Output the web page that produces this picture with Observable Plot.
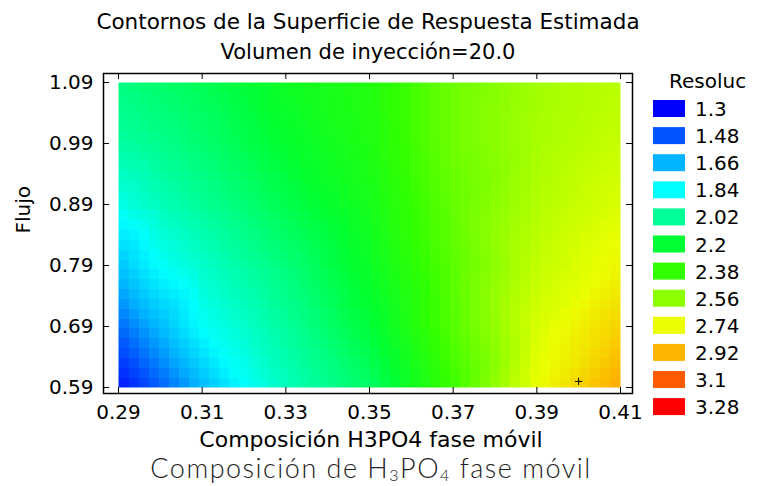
<!DOCTYPE html>
<html>
<head>
<meta charset="utf-8">
<script src="https://cdn.jsdelivr.net/npm/d3@7"></script>
<script src="https://cdn.jsdelivr.net/npm/@observablehq/plot@0.6"></script>
<style>
  html, body { margin: 0; padding: 0; background: #fff; }
  #wrap { position: relative; width: 759px; height: 486px; background: #fff; overflow: hidden; }
  #legend { position: absolute; left: 640px; top: 60px; }
  #caption { position: absolute; left: 0; top: 455px; width: 742px; text-align: center;
    font-family: Lato, "Open Sans", sans-serif; font-weight: 300; font-size: 27px;
    letter-spacing: 1.5px; color: #222; line-height: 26px; white-space: nowrap; }
  #caption sub { font-size: 16px; vertical-align: -3px; line-height: 0; }
</style>
</head>
<body>
<div id="wrap">
  <div id="plot"></div>
  <div id="legend"></div>
  <div id="caption">Composición de H<sub>3</sub>PO<sub>4</sub> fase móvil</div>
</div>
<script>
// ---- data ----
const title1 = "Contornos de la Superficie de Respuesta Estimada";
const title2 = "Volumen de inyección=20.0";
const xLabel = "Composición H3PO4 fase móvil";
const yLabel = "Flujo";
const legendTitle = "Resoluc";

const xTicks = [0.29, 0.31, 0.33, 0.35, 0.37, 0.39, 0.41];
const yTicks = [0.59, 0.69, 0.79, 0.89, 0.99, 1.09];

// grid where the estimated response was read off the picture
const gridXs = [0.29, 0.30, 0.31, 0.32, 0.33, 0.35, 0.37, 0.39, 0.41];
const gridYs = [0.59, 0.69, 0.79, 0.89, 0.99, 1.09];
const row059 = [1.34, 1.50, 1.67, 1.84, 1.95, 2.11, 2.40, 2.74, 2.95];
const row069 = [1.52, 1.68, 1.85, 1.93, 2.01, 2.19, 2.45, 2.70, 2.85];
const row079 = [1.70, 1.85, 1.93, 2.00, 2.07, 2.24, 2.46, 2.66, 2.76];
const row089 = [1.88, 1.96, 2.02, 2.08, 2.15, 2.28, 2.48, 2.63, 2.71];
const row099 = [2.00, 2.04, 2.09, 2.15, 2.21, 2.31, 2.50, 2.61, 2.67];
const row109 = [2.06, 2.10, 2.14, 2.19, 2.25, 2.32, 2.50, 2.60, 2.65];
const rows = [row059, row069, row079, row089, row099, row109]; // same order as gridYs

const optimumX = [0.40];
const optimumY = [0.60];

const legendValues = [1.3, 1.48, 1.66, 1.84, 2.02, 2.2, 2.38, 2.56, 2.74, 2.92, 3.1, 3.28];
const legendLabels = ["1.3", "1.48", "1.66", "1.84", "2.02", "2.2", "2.38", "2.56", "2.74", "2.92", "3.1", "3.28"];
const legendColors = ["#0000ff", "#0055ff", "#00b4ff", "#00ffff", "#00ff96", "#00ff32",
                      "#32ff00", "#8cff00", "#ebff00", "#ffb400", "#ff5a00", "#ff0000"];

// ---- build table ----
const grid = [];
gridYs.forEach((y, j) => gridXs.forEach((x, i) => grid.push({x, y, v: rows[j][i]})));
const optimum = optimumX.map((x, i) => ({x, y: optimumY[i]}));

const W = 759, H = 458;
const mL = 103, mR = 127, mT = 73, mB = 65;
const fw = W - mL - mR, fh = H - mT - mB;
const font = "DejaVu Sans";

const chart = Plot.plot({
  width: W, height: H,
  marginLeft: mL, marginRight: mR, marginTop: mT, marginBottom: mB,
  insetLeft: 15, insetRight: 12, insetTop: 9, insetBottom: 6,
  x: {domain: [0.29, 0.41], axis: null},
  y: {domain: [0.59, 1.09], axis: null},
  color: {type: "linear", domain: legendValues, range: legendColors, interpolate: "rgb"},
  style: {fontFamily: font, fontSize: "20px", background: "white", color: "black", overflow: "visible"},
  marks: [
    Plot.raster(grid, {x: "x", y: "y", fill: "v", interpolate: "barycentric",
      x1: 0.29, x2: 0.41, y1: 0.59, y2: 1.09, pixelSize: 10, imageRendering: "pixelated"}),
    Plot.dot(optimum, {x: "x", y: "y", symbol: "plus", r: 2.5, stroke: "black", strokeWidth: 1}),
    Plot.frame({stroke: "black", strokeWidth: 1.5}),
    Plot.ruleX(xTicks, {x: d => d, insetTop: fh - 6, stroke: "black"}),
    Plot.ruleX(xTicks, {x: d => d, insetBottom: fh - 6, stroke: "black"}),
    Plot.ruleY(yTicks, {y: d => d, insetRight: fw - 6, stroke: "black"}),
    Plot.ruleY(yTicks, {y: d => d, insetLeft: fw - 6, stroke: "black"}),
    Plot.axisX(xTicks, {anchor: "bottom", tickSize: 0, tickPadding: 11, tickFormat: d3.format(".2f"), label: null, fontSize: 20}),
    Plot.axisY(yTicks, {anchor: "left", tickSize: 0, tickPadding: 10, tickFormat: d3.format(".2f"), label: null, fontSize: 20}),
    Plot.text([title1], {frameAnchor: "top", dy: -45, lineAnchor: "bottom", fontSize: 21.5}),
    Plot.text([title2], {frameAnchor: "top", dy: -15, lineAnchor: "bottom", fontSize: 21}),
    Plot.text([xLabel], {frameAnchor: "bottom", dy: 53, dx: 3, lineAnchor: "bottom", fontSize: 22}),
    Plot.text([yLabel], {frameAnchor: "left", dx: -74, rotate: -90, lineAnchor: "bottom", fontSize: 20})
  ]
});
document.getElementById("plot").appendChild(chart);

// ---- legend ----
const lg = d3.select("#legend").append("svg")
  .attr("width", 119).attr("height", 370)
  .style("font-family", font).style("font-size", "20px");
lg.append("text").attr("x", 29).attr("y", 28).text(legendTitle);
const item = lg.selectAll("g.item").data(legendLabels).join("g")
  .attr("class", "item")
  .attr("transform", (d, i) => `translate(0, ${40 + i * 27.1})`);
item.append("rect").attr("x", 13).attr("y", 0).attr("width", 32).attr("height", 17)
  .attr("fill", (d, i) => legendColors[i]);
item.append("text").attr("x", 55).attr("y", 16).text(d => d);
</script>
</body>
</html>
